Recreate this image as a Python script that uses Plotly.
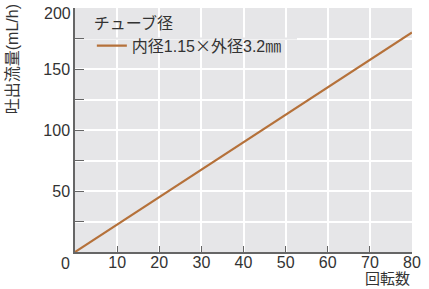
import plotly.graph_objects as go

rpm = [0, 80]
flow = [0, 180]
series_name = "内径1.15<span style='font-family:Noto Sans CJK JP'>×</span>外径3.2<span style='font-family:Noto Sans CJK JP'>㎜</span>"
legend_title = "チューブ径"
x_ticks = [0, 10, 20, 30, 40, 50, 60, 70, 80]
x_labels = ["", "10", "20", "30", "40", "50", "60", "70", "80"]
y_ticks = [0, 25, 50, 75, 100, 125, 150, 175, 200]
y_labels = ["", "", "50", "", "100", "", "150", "", ""]

FONT = "Liberation Sans, Arial, Noto Sans CJK JP, sans-serif"
TXT = "#333333"
BG = "#e6e6e8"

fig = go.Figure()
fig.add_trace(go.Scatter(x=rpm, y=flow, mode="lines", name=series_name,
                         line=dict(color="#b5713a", width=2.2)))

fig.update_layout(
    width=429, height=289,
    margin=dict(l=75, r=12, t=8, b=37),
    paper_bgcolor="white", plot_bgcolor=BG,
    font=dict(family=FONT, size=16, color=TXT),
    showlegend=True,
    legend=dict(x=0.05, y=1.0, xanchor="left", yanchor="top",
                bgcolor="rgba(0,0,0,0)",
                title=dict(text=legend_title, font=dict(size=16, color=TXT)),
                font=dict(size=16, color=TXT), tracegroupgap=0),
    xaxis=dict(range=[0, 80], tickvals=x_ticks, ticktext=x_labels,
               showgrid=True, gridcolor="white", gridwidth=1.5,
               ticks="inside", ticklen=6, tickcolor="#666", tickwidth=1.2,
               showline=True, linecolor="#666", linewidth=1.5,
               zeroline=False, tickfont=dict(size=16, color=TXT),
               ticklabelstandoff=-5),
    yaxis=dict(range=[0, 200], tickvals=y_ticks, ticktext=y_labels,
               showgrid=True, gridcolor="white", gridwidth=1.5,
               ticks="inside", ticklen=9, tickcolor="#666", tickwidth=1.2,
               showline=True, linecolor="#666", linewidth=1.5,
               zeroline=False, tickfont=dict(size=16, color=TXT)),
    shapes=[dict(type="line", xref="x", yref="y", x0=0.3, x1=52.7, y0=175, y1=175,
                 line=dict(color=BG, width=2), layer="between")],
    annotations=[
        dict(text="0", xref="paper", yref="paper", x=0, y=0, xanchor="right", yanchor="top",
             xshift=-3, yshift=-1, showarrow=False, font=dict(size=16, color=TXT)),
        dict(text="200", xref="paper", yref="y", x=0, y=200, xanchor="right", yanchor="middle",
             xshift=-2, yshift=-5, showarrow=False, font=dict(size=16, color=TXT)),
        dict(text="回転数", xref="paper", yref="paper", x=1, y=0, xanchor="right", yanchor="bottom",
             yshift=-37, showarrow=False, font=dict(size=15, color=TXT)),
        dict(text="吐出流量(mL/h)", xref="paper", yref="paper", x=0, y=0.79,
             xanchor="center", yanchor="middle", xshift=-63, textangle=-90,
             showarrow=False, font=dict(size=16, color=TXT)),
    ],
)

fig.write_html("out.html")
